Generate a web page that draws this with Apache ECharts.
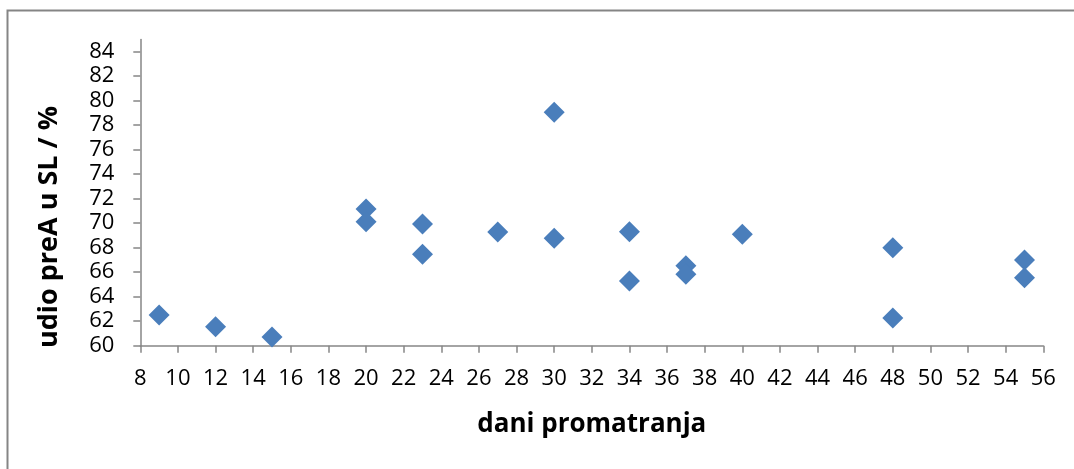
<!DOCTYPE html>
<html>
<head>
<meta charset="utf-8">
<script src="https://cdn.jsdelivr.net/npm/echarts@6/dist/echarts.min.js"></script>
<style>
html,body{margin:0;padding:0;background:#fff;}
#c{width:1074px;height:469px;}
</style>
</head>
<body>
<div id="c"></div>
<script>
const days = [9, 12, 15, 20, 20, 23, 23, 27, 30, 30, 34, 34, 37, 37, 40, 48, 48, 55, 55];
const shares = [62.5, 61.55, 60.7, 71.15, 70.12, 69.93, 67.46, 69.28, 79.05, 68.77, 69.31, 65.28, 66.53, 65.83, 69.09, 68.0, 62.26, 67.0, 65.55];
const yTicks = [60, 62, 64, 66, 68, 70, 72, 74, 76, 78, 80, 82, 84];
const xTicks = [8, 10, 12, 14, 16, 18, 20, 22, 24, 26, 28, 30, 32, 34, 36, 38, 40, 42, 44, 46, 48, 50, 52, 54, 56];
const xTitle = 'dani promatranja';
const yTitle = 'udio preA u SL / %';

const font = '"Open Sans", "Liberation Sans", sans-serif';
const axisColor = '#868686';
const chart = echarts.init(document.getElementById('c'));
chart.setOption({
  animation: false,
  graphic: [
    {type: 'rect', shape: {x: 7.5, y: 10.5, width: 1200, height: 600}, style: {fill: 'none', stroke: '#858585', lineWidth: 2}, silent: true, z: -1},
    {type: 'text', x: 49, y: 227, rotation: Math.PI / 2, style: {text: yTitle, font: 'bold 27px ' + font, fill: '#000', align: 'center', verticalAlign: 'middle'}}
  ],
  grid: {left: 140.3, right: 30.7, top: 39.4, bottom: 123.3},
  xAxis: {
    type: 'value', min: 8, max: 56, interval: 2,
    name: xTitle, nameLocation: 'middle', nameGap: 66,
    nameTextStyle: {fontFamily: font, fontWeight: 'bold', fontSize: 26, color: '#000'},
    axisLine: {lineStyle: {color: axisColor, width: 1.5}},
    axisTick: {show: true, length: 7, lineStyle: {color: axisColor, width: 1.5}, customValues: xTicks},
    axisLabel: {fontFamily: font, fontSize: 22, color: '#000', margin: 22, customValues: xTicks},
    splitLine: {show: false}
  },
  yAxis: {
    type: 'value', min: 60, max: 85,
    axisLine: {show: true, lineStyle: {color: axisColor, width: 1.5}},
    axisTick: {show: true, length: 7, lineStyle: {color: axisColor, width: 1.5}, customValues: yTicks},
    axisLabel: {fontFamily: font, fontSize: 22, color: '#000', margin: 26, customValues: yTicks},
    splitLine: {show: false}
  },
  series: [{
    type: 'scatter',
    symbol: 'diamond',
    symbolSize: 21,
    itemStyle: {color: '#4a7ebb', opacity: 1},
    data: days.map((d, i) => [d, shares[i]])
  }]
});
</script>
</body>
</html>
